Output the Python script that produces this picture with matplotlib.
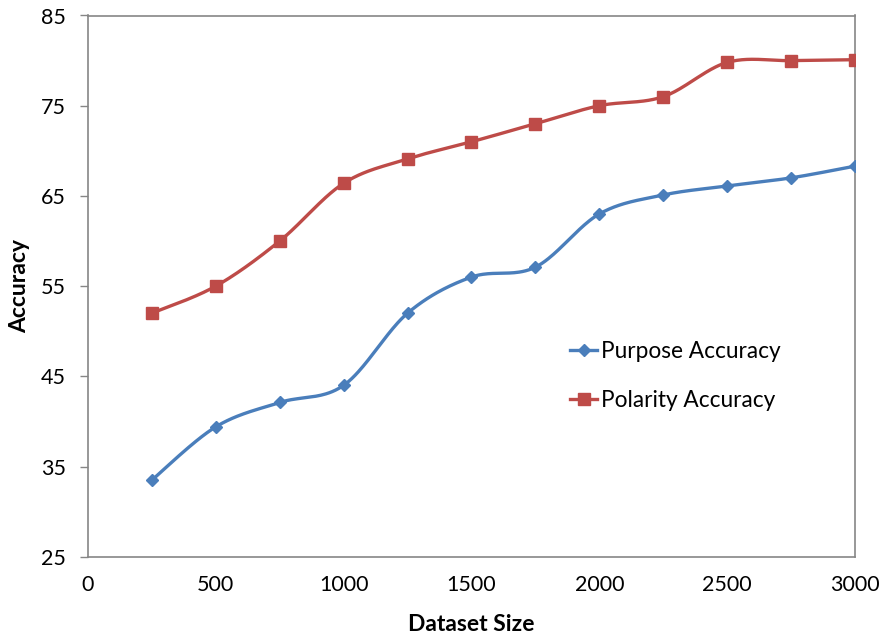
import numpy as np
import matplotlib
matplotlib.use("Agg")
import matplotlib.pyplot as plt
from matplotlib.lines import Line2D

dataset_size = [250, 500, 750, 1000, 1250, 1500, 1750, 2000, 2250, 2500, 2750, 3000]
purpose_acc = [33.5, 39.4, 42.1, 44.0, 52.0, 56.0, 57.1, 63.0, 65.1, 66.1, 67.0, 68.3]
polarity_acc = [52.0, 55.0, 60.0, 66.4, 69.1, 71.0, 73.0, 75.0, 76.0, 79.8, 80.0, 80.1]
x_ticks = [0, 500, 1000, 1500, 2000, 2500, 3000]
y_ticks = [25, 35, 45, 55, 65, 75, 85]

FONT = ["Lato", "DejaVu Sans"]
plt.rcParams["font.family"] = FONT

fig = plt.figure(figsize=(8.87, 6.41), dpi=100)
ax = fig.add_axes([88/887, 1-556.7/641, (855-88)/887, (556.7-15.5)/641])

XMIN, XMAX, YMIN, YMAX = 0, 3000, 25, 85


def smooth(xs, ys, n=40):
    # Excel-like smoothed line: cubic Bezier with Catmull-Rom tangents (drawn in normalized space)
    px = (np.asarray(xs, float) - XMIN) / (XMAX - XMIN) * 767
    py = (np.asarray(ys, float) - YMIN) / (YMAX - YMIN) * 541
    P = np.column_stack([px, py])
    out = []
    for i in range(len(P) - 1):
        p0 = P[i - 1] if i > 0 else P[i]
        p1 = P[i]
        p2 = P[i + 1]
        p3 = P[i + 2] if i + 2 < len(P) else P[i + 1]
        c1 = p1 + (p2 - p0) / 6.0
        c2 = p2 - (p3 - p1) / 6.0
        t = np.linspace(0, 1, n)[:, None]
        seg = ((1 - t) ** 3) * p1 + 3 * ((1 - t) ** 2) * t * c1 + 3 * (1 - t) * t ** 2 * c2 + t ** 3 * p2
        out.append(seg if i == 0 else seg[1:])
    S = np.vstack(out)
    return S[:, 0] / 767 * (XMAX - XMIN) + XMIN, S[:, 1] / 541 * (YMAX - YMIN) + YMIN


blue = "#4A7EBB"
red = "#BE4B48"

sx, sy = smooth(dataset_size, purpose_acc)
ax.plot(sx, sy, color=blue, lw=2.4, solid_capstyle="round", zorder=3)
ax.plot(dataset_size, purpose_acc, ls="none", marker="D", ms=6, color=blue, zorder=4)

sx, sy = smooth(dataset_size, polarity_acc)
ax.plot(sx, sy, color=red, lw=2.4, solid_capstyle="round", zorder=3)
ax.plot(dataset_size, polarity_acc, ls="none", marker="s", ms=8, color=red, zorder=4)

ax.set_xlim(XMIN, XMAX)
ax.set_ylim(YMIN, YMAX)
ax.set_xticks(x_ticks)
ax.set_yticks(y_ticks)
ax.tick_params(axis="x", length=0, pad=13, labelsize=15.5)
ax.tick_params(axis="y", length=6, width=1, color="#868686", direction="out", pad=10, labelsize=15.5)
for s in ax.spines.values():
    s.set_color("#868686")
    s.set_linewidth(1.2)

ax.set_xlabel("Dataset Size", fontsize=16.5, fontweight="bold", labelpad=14)
ax.set_ylabel("Accuracy", fontsize=16.5, fontweight="bold", labelpad=8)

handles = [
    Line2D([0], [0], color=blue, lw=2.4, marker="D", ms=6),
    Line2D([0], [0], color=red, lw=2.4, marker="s", ms=8),
]
fig.legend(handles, ["Purpose Accuracy", "Polarity Accuracy"], loc="center left",
           bbox_to_anchor=(559/887, 1-376/641), frameon=False, fontsize=16.3,
           handlelength=1.2, handletextpad=0.15, labelspacing=1.25, borderpad=0)

fig.savefig("out.png", dpi=100)
